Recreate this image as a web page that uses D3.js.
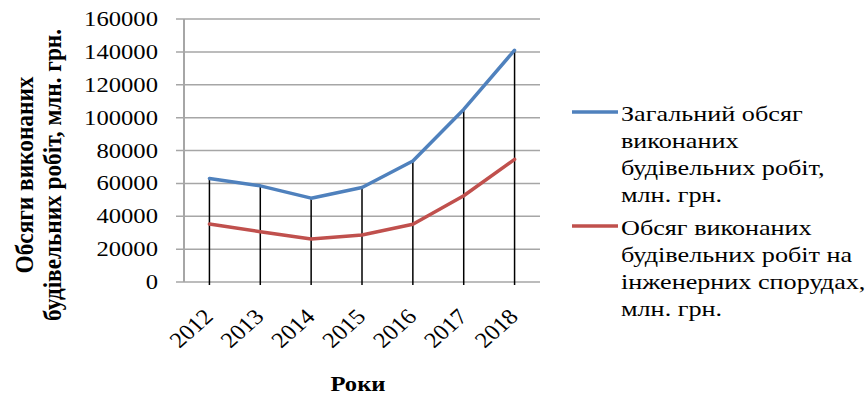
<!DOCTYPE html>
<html><head><meta charset="utf-8">
<script src="https://cdn.jsdelivr.net/npm/d3@7"></script>
<style>body{margin:0;background:#fff;} svg{display:block;}</style>
</head><body>
<svg id="c" width="866" height="396"></svg>
<script>
const years = ["2012","2013","2014","2015","2016","2017","2018"];
const totalWorks = [63000, 58500, 51000, 57500, 73600, 105000, 141000];
const engineeringWorks = [35300, 30600, 26200, 28600, 35100, 52500, 74600];
const yTicks = [0,20000,40000,60000,80000,100000,120000,140000,160000];
const seriesNames = [
  ["Загальний обсяг","виконаних","будівельних робіт,","млн. грн."],
  ["Обсяг виконаних","будівельних робіт на","інженерних спорудах,","млн. грн."]
];
const seriesColors = ["#4F81BD","#C0504D"];
const yTitle = ["Обсяги виконаних","будівельних робіт, млн. грн."];
const xTitle = "Роки";

const svg = d3.select("#c");
const FONT = "'Liberation Serif','Times New Roman',serif";
const SX = 1.12;
const x = d3.scaleBand().domain(years).range([184,540]);
const y = d3.scaleLinear().domain([0,160000]).range([282,19]);
const cx = d => x(d) + x.bandwidth()/2;

// gridlines
svg.append("g").selectAll("line").data(yTicks).join("line")
  .attr("x1",176).attr("x2",540)
  .attr("y1",d=>y(d)).attr("y2",d=>y(d))
  .attr("stroke","#a6a6a6").attr("stroke-width",1.5);
// y axis line
svg.append("line").attr("x1",184).attr("x2",184).attr("y1",y(160000)).attr("y2",y(0))
  .attr("stroke","#a6a6a6").attr("stroke-width",2);
// y tick labels
svg.append("g").selectAll("text").data(yTicks).join("text")
  .attr("transform",d=>`translate(158,${y(d)+7}) scale(${SX},1)`)
  .attr("text-anchor","end").attr("font-family",FONT).attr("font-size",22)
  .attr("fill","#000").text(d=>d);

// drop lines
svg.append("g").selectAll("line").data(years).join("line")
  .attr("x1",d=>cx(d)).attr("x2",d=>cx(d))
  .attr("y1",(d,i)=>y(totalWorks[i])).attr("y2",y(0)+3)
  .attr("stroke","#000").attr("stroke-width",1.5);

// lines
const line = d3.line().x((d,i)=>cx(years[i])).y(d=>y(d));
[totalWorks, engineeringWorks].forEach((s,k)=>{
  svg.append("path").datum(s).attr("d",line).attr("fill","none")
    .attr("stroke",seriesColors[k]).attr("stroke-width",3.5)
    .attr("stroke-linejoin","round").attr("stroke-linecap","round");
});

// x tick labels
svg.append("g").selectAll("text").data(years).join("text")
  .attr("transform",d=>`translate(${cx(d)+5},${y(0)+36}) scale(${SX},1) rotate(-45)`)
  .attr("text-anchor","end").attr("font-family",FONT).attr("font-size",22)
  .attr("fill","#000").text(d=>d);

// x title
svg.append("text").attr("transform",`translate(358,391) scale(${SX},1)`)
  .attr("text-anchor","middle").attr("font-family",FONT).attr("font-size",22)
  .attr("font-weight","bold").text(xTitle);

// y title
const yTitleLen = [197, 292];
yTitle.forEach((t,i)=>{
  svg.append("text").attr("transform",`translate(${33+i*28},175) scale(${SX},1) rotate(-90)`)
    .attr("text-anchor","middle").attr("font-family",FONT).attr("font-size",22)
    .attr("font-weight","bold")
    .attr("textLength",yTitleLen[i]).attr("lengthAdjust","spacingAndGlyphs")
    .text(t);
});

// legend
const legY = [112, 226];
seriesNames.forEach((lines,k)=>{
  svg.append("line").attr("x1",572).attr("x2",618).attr("y1",legY[k]).attr("y2",legY[k])
    .attr("stroke",seriesColors[k]).attr("stroke-width",3.5);
  lines.forEach((t,j)=>{
    svg.append("text").attr("transform",`translate(621,${legY[k]+9+j*27}) scale(1.19,1)`)
      .attr("font-family",FONT).attr("font-size",22).attr("fill","#000").text(t);
  });
});
</script>
</body></html>
